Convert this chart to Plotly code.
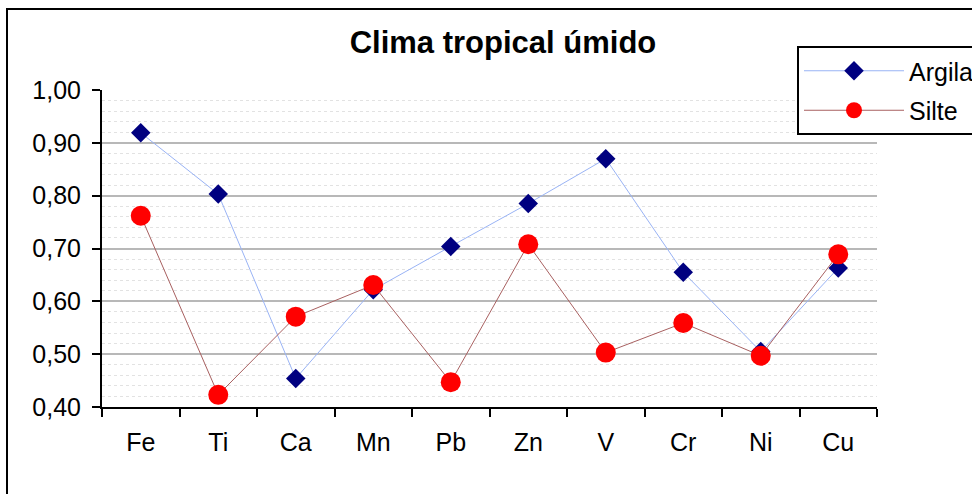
import plotly.graph_objects as go

categories = ["Fe", "Ti", "Ca", "Mn", "Pb", "Zn", "V", "Cr", "Ni", "Cu"]
argila = [0.919, 0.803, 0.454, 0.622, 0.704, 0.785, 0.870, 0.655, 0.505, 0.663]
silte = [0.762, 0.423, 0.571, 0.631, 0.447, 0.708, 0.503, 0.559, 0.497, 0.689]
y_ticks = [0.40, 0.50, 0.60, 0.70, 0.80, 0.90, 1.00]

W, H = 972, 494
L, R, T, B = 102, 877, 90, 407

fig = go.Figure()
fig.add_trace(go.Scatter(
    x=categories, y=argila, name="Argila", mode="lines+markers",
    legendgroup="a",
    line=dict(color="#99b3f5", width=1),
    marker=dict(symbol="diamond", size=15, color="#000080"),
))
fig.add_trace(go.Scatter(
    x=categories, y=silte, name="Silte", mode="lines+markers",
    legendgroup="b",
    line=dict(color="#a86060", width=1),
    marker=dict(symbol="circle", size=20, color="#ff0000"),
))

def px_x(p):
    return (p - L) / (R - L)

def px_y(p):
    return (B - p) / (B - T)

fig.update_layout(
    width=W, height=H,
    margin=dict(l=L, r=W - R, t=T, b=H - B, pad=0, autoexpand=False),
    paper_bgcolor="white", plot_bgcolor="white",
    separators=",.",
    font=dict(family="Liberation Sans, Arial, sans-serif", size=25, color="black"),
    title=dict(text="<b>Clima tropical úmido</b>", x=503 / W, xanchor="center",
               y=1 - 42 / H, yanchor="middle", font=dict(size=31)),
    showlegend=True,
    legend=dict(x=px_x(797), y=px_y(46), xanchor="left", yanchor="top",
                bgcolor="white", bordercolor="black", borderwidth=2,
                font=dict(size=25), itemwidth=100, tracegroupgap=4),
    xaxis=dict(type="category", showline=True, linecolor="black", linewidth=2,
               ticks="outside", tickson="boundaries", ticklen=8, tickwidth=2,
               tickcolor="black", showgrid=False, tickfont=dict(size=25),
               range=[-0.5, 9.5], ticklabelstandoff=12),
    yaxis=dict(range=[0.40, 1.00], tickvals=y_ticks, tickformat=".2f",
               showline=True, linecolor="black", linewidth=2,
               ticks="outside", ticklen=8, tickwidth=2, tickcolor="black",
               showgrid=True, gridcolor="#b8b8b8", gridwidth=2,
               zeroline=False, tickfont=dict(size=25), ticklabelstandoff=6,
               minor=dict(dtick=0.02, showgrid=True, gridcolor="#e2e2e2",
                          gridwidth=1, griddash="dot")),
    shapes=[dict(type="rect", xref="paper", yref="paper",
                 x0=px_x(7), x1=px_x(990), y0=px_y(510), y1=px_y(9),
                 line=dict(color="black", width=2), fillcolor="rgba(0,0,0,0)",
                 layer="above")],
)

fig.write_html("out.html")
